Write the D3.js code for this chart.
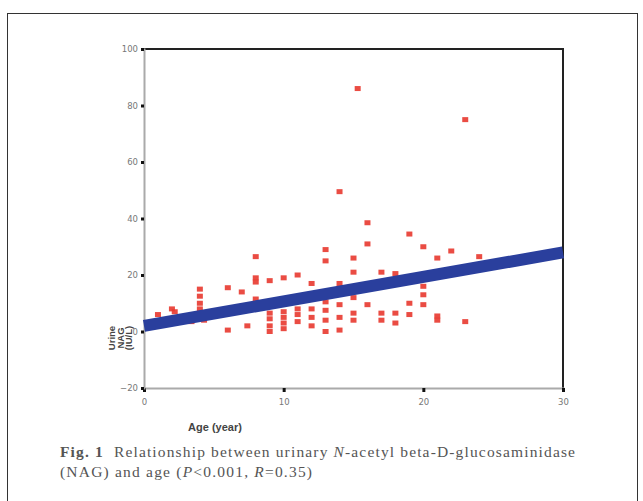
<!DOCTYPE html>
<html>
<head>
<meta charset="utf-8">
<script src="https://cdn.jsdelivr.net/npm/d3@7"></script>
<style>
  body { margin: 0; background: #fff; }
  svg { display: block; }
</style>
</head>
<body>
<div id="chart"></div>
<script>
// Data
let ages = [1, 2, 2.2, 3.4, 4, 4, 4, 4, 4.3, 6, 6, 7, 7.4,
            8, 8, 8, 8, 9, 9, 9, 9, 9, 10, 10, 10, 10, 10,
            11, 11, 11, 11, 12, 12, 12, 12, 13, 13, 13, 13, 13, 13,
            14, 14, 14, 14, 14, 15.3, 15, 15, 15, 15, 15, 16, 16, 16,
            17, 17, 17, 18, 18, 18, 19, 19, 19, 20, 20, 20, 20,
            21, 21, 21, 22, 23, 23, 24];
let nag = [6, 8, 7, 3.5, 15, 12.5, 10, 8, 4, 15.5, 0.5, 14, 2,
           26.5, 19, 17.5, 11.5, 18, 6.5, 4.5, 2, 0, 19, 7, 5, 3, 1,
           20, 8, 6, 3.5, 17, 8, 5, 2, 29, 25, 10.5, 7.5, 4, 0,
           49.5, 17, 9.5, 5, 0.5, 86, 26, 21, 12, 6.5, 4, 38.5, 31, 9.5,
           21, 6.5, 4, 20.5, 6.5, 3, 34.5, 10, 6, 30, 16, 13, 9.5,
           26, 5.5, 4, 28.5, 75, 3.5, 26.5];
let fitX = [0, 30];
let fitY = [2, 28];
let xTicks = [0, 10, 20, 30];
let yTicks = [-20, 0, 20, 40, 60, 80, 100];

let svgWidth = 643, svgHeight = 501;
let plot = { left: 144, top: 49, right: 563, bottom: 388 };

let svg = d3.select('#chart')
            .append('svg')
            .attr('width', svgWidth)
            .attr('height', svgHeight);

// outer figure frame
svg.append('rect')
    .attr('x', 7.5).attr('y', 13.5)
    .attr('width', 630).attr('height', 500)
    .attr('fill', 'none')
    .attr('stroke', '#333')
    .attr('stroke-width', 1);

let xScale = d3.scaleLinear().domain([0, 30]).range([plot.left, plot.right]);
let yScale = d3.scaleLinear().domain([-20, 100]).range([plot.bottom, plot.top]);

// top and right frame lines (dark)
svg.append('path')
    .attr('d', `M${plot.left},${plot.top}H${plot.right}V${plot.bottom}`)
    .attr('fill', 'none')
    .attr('stroke', '#222')
    .attr('stroke-width', 2);

// axes
let xAxis = d3.axisBottom(xScale).tickValues(xTicks).tickSize(4).tickFormat(d3.format('d'));
let yAxis = d3.axisLeft(yScale).tickValues(yTicks).tickSize(3).tickFormat(d3.format('d'));

let gx = svg.append('g')
    .attr('transform', `translate(0, ${plot.bottom})`)
    .call(xAxis);
let gy = svg.append('g')
    .attr('transform', `translate(${plot.left}, 0)`)
    .call(yAxis);

[gx, gy].forEach(g => {
    g.select('.domain').attr('stroke', '#aaa').attr('stroke-width', 2);
    g.selectAll('.tick line').attr('stroke', '#111').attr('stroke-width', 3);
    g.selectAll('.tick text')
        .attr('fill', '#777')
        .attr('font-family', 'DejaVu Sans, sans-serif')
        .attr('font-size', 8.5);
});
gx.selectAll('.tick text').attr('dy', '1.2em');

// scatter points
svg.append('g')
    .selectAll('rect')
    .data(ages.map((a, i) => [a, nag[i]]))
    .enter()
    .append('rect')
    .attr('x', d => xScale(d[0]) - 3)
    .attr('y', d => yScale(d[1]) - 2.5)
    .attr('width', 6)
    .attr('height', 5)
    .attr('fill', '#e8392f')
    .attr('opacity', 0.9);

// regression line
let line = d3.line().x(d => xScale(d[0])).y(d => yScale(d[1]));
svg.append('path')
    .datum(fitX.map((x, i) => [x, fitY[i]]))
    .attr('d', line)
    .attr('fill', 'none')
    .attr('stroke', '#2a3f9d')
    .attr('stroke-width', 12);

// axis titles
svg.append('text')
    .attr('x', 215).attr('y', 431)
    .attr('text-anchor', 'middle')
    .attr('font-family', 'Liberation Sans, Arial, sans-serif')
    .attr('font-weight', 'bold')
    .attr('font-size', 11)
    .attr('fill', '#444')
    .text('Age (year)');

let yTitle = svg.append('text')
    .attr('transform', 'translate(115, 338) rotate(-90)')
    .attr('text-anchor', 'middle')
    .attr('font-family', 'Liberation Sans, Arial, sans-serif')
    .attr('font-weight', 'bold')
    .attr('font-size', 9.5)
    .attr('fill', '#444');
['Urine', 'NAG', '(IU/L)'].forEach((t, i) => {
    yTitle.append('tspan').attr('x', 0).attr('dy', i === 0 ? 0 : 8.5).text(t);
});

// caption
let cap = svg.append('g')
    .attr('font-family', 'Liberation Serif, Times New Roman, serif')
    .attr('font-size', 15.5)
    .attr('fill', '#555');

let l1 = cap.append('text').attr('x', 60).attr('y', 457)
    .attr('textLength', 515).attr('lengthAdjust', 'spacing');
l1.append('tspan').attr('font-weight', 'bold').text('Fig. 1');
l1.append('tspan').text('\u00a0\u00a0Relationship between urinary ');
l1.append('tspan').attr('font-style', 'italic').text('N');
l1.append('tspan').text('-acetyl beta-D-glucosaminidase');

let l2 = cap.append('text').attr('x', 60).attr('y', 477)
    .attr('textLength', 252).attr('lengthAdjust', 'spacing');
l2.append('tspan').text('(NAG) and age (');
l2.append('tspan').attr('font-style', 'italic').text('P');
l2.append('tspan').text('<0.001, ');
l2.append('tspan').attr('font-style', 'italic').text('R');
l2.append('tspan').text('=0.35)');
</script>
</body>
</html>
